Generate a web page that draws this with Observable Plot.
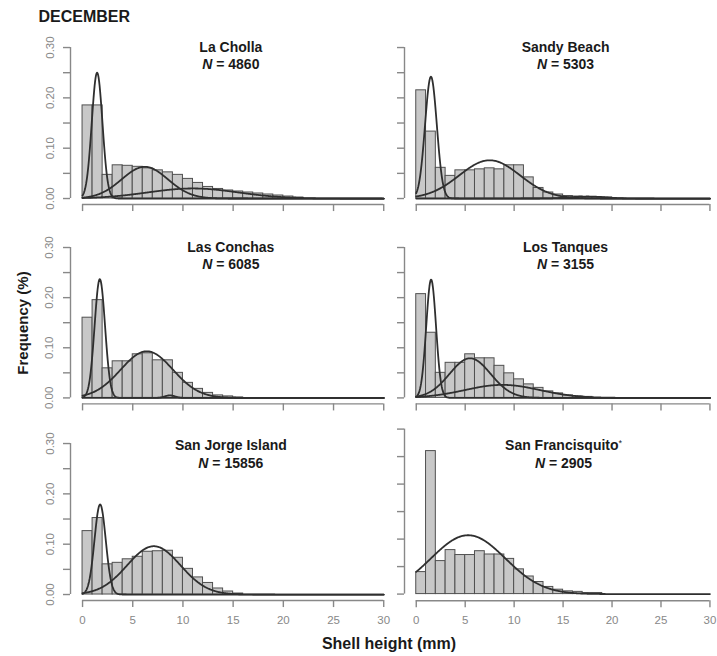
<!DOCTYPE html>
<html><head><meta charset="utf-8">
<script src="https://cdn.jsdelivr.net/npm/d3@7"></script>
<script src="https://cdn.jsdelivr.net/npm/@observablehq/plot@0.6"></script>
<style>
html,body{margin:0;padding:0;background:#fff;overflow:hidden;}
#chart{position:relative;width:717px;height:656px;overflow:hidden;font-family:"Liberation Sans",Arial,sans-serif;background:#fff;}
#chart svg{position:absolute;overflow:visible;}
.lbl{position:absolute;font-weight:bold;color:#1a1a1a;white-space:nowrap;line-height:1;}
</style></head><body><div id="chart"></div>
<script>
// ---- data ----
const sites = ["La Cholla", "Sandy Beach", "Las Conchas", "Los Tanques", "San Jorge Island", "San Francisquito*"];
const sampleSizes = [4860, 5303, 6085, 3155, 15856, 2905];
const binLow = [0,1,2,3,4,5,6,7,8,9,10,11,12,13,14,15,16,17,18,19,20,21];
const binWidth = 1;
const freqLaCholla = [0.185, 0.185, 0.047, 0.066, 0.065, 0.063, 0.060, 0.056, 0.052, 0.047, 0.039, 0.031, 0.023, 0.019, 0.016, 0.014, 0.012, 0.010, 0.008, 0.006, 0.004, 0.002];
const freqSandyBeach = [0.215, 0.133, 0.061, 0.045, 0.056, 0.056, 0.058, 0.060, 0.058, 0.066, 0.066, 0.042, 0.021, 0.012, 0.008, 0.005, 0.004, 0.003, 0.003, 0.002];
const freqLasConchas = [0.160, 0.195, 0.059, 0.073, 0.073, 0.087, 0.089, 0.075, 0.075, 0.050, 0.030, 0.018, 0.010, 0.005, 0.003, 0.001];
const freqLosTanques = [0.207, 0.130, 0.050, 0.070, 0.070, 0.087, 0.079, 0.079, 0.064, 0.049, 0.037, 0.027, 0.020, 0.013, 0.009, 0.005, 0.003, 0.002];
const freqSanJorge = [0.126, 0.152, 0.060, 0.063, 0.070, 0.075, 0.085, 0.086, 0.087, 0.073, 0.051, 0.034, 0.023, 0.012, 0.006, 0.002];
const freqSanFrancisquito = [0.040, 0.260, 0.060, 0.080, 0.071, 0.071, 0.078, 0.072, 0.072, 0.064, 0.045, 0.032, 0.022, 0.013, 0.008, 0.005, 0.004, 0.002, 0.002];
// fitted normal components: [mean (mm), sd (mm), peak height]
const compLaCholla = [[1.45, 0.53, 0.25], [6.2, 2.3, 0.063], [11, 4.5, 0.02]];
const compSandyBeach = [[1.5, 0.6, 0.242], [7.5, 3.1, 0.076], [17.5, 1.8, 0.004]];
const compLasConchas = [[1.72, 0.52, 0.237], [6.4, 2.6, 0.093], [8.7, 0.5, 0.005]];
const compLosTanques = [[1.52, 0.5, 0.236], [5.5, 2.1, 0.079], [8.8, 3.8, 0.026]];
const compSanJorge = [[1.75, 0.56, 0.179], [7.1, 2.65, 0.096]];
const compSanFrancisquito = [[5.3, 3.8, 0.107]];
const xTicks = [0, 5, 10, 15, 20, 25, 30];
const yTicks = [0, 0.05, 0.10, 0.15, 0.20, 0.25, 0.30];
const yTickLabels = ["0.00", "", "0.10", "", "0.20", "", "0.30"];

const freqs = [freqLaCholla, freqSandyBeach, freqLasConchas, freqLosTanques, freqSanJorge, freqSanFrancisquito];
const comps = [compLaCholla, compSandyBeach, compLasConchas, compLosTanques, compSanJorge, compSanFrancisquito];

// ---- layout (pixels) ----
const cols = [{x0: 81.7, kx: 10.04, tx: 230}, {x0: 415.7, kx: 9.79, tx: 565}];
const rows = [
  {yZero: 198.3, yTop: 47.3, t1: 47.5, t2: 64.2},
  {yZero: 397.7, yTop: 247.3, t1: 247.5, t2: 264},
  {yZero: 594.3, yTop: 443.3, t1: 445, t2: 463.3}
];
const francisquitoRow = {yZero: 594, yTop: 429, t1: 445, t2: 463.3};
const xDom = [-1.2, 31.2], yDom = [-0.012, 0.312];
const gray = "#888888";

const chart = document.getElementById("chart");

sites.forEach((site, i) => {
  const c = cols[i % 2];
  const r = i === 5 ? francisquitoRow : rows[Math.floor(i / 2)];
  const ky = (r.yZero - r.yTop) / 0.30;
  const pxL = c.x0 + xDom[0] * c.kx, pxR = c.x0 + xDom[1] * c.kx;
  const pyT = r.yZero - yDom[1] * ky, pyB = r.yZero - yDom[0] * ky;
  const mL = 70, mR = 10, mT = 45, mB = 45;
  const left = pxL - mL, top = pyT - mT;
  const width = pxR - pxL + mL + mR, height = pyB - pyT + mT + mB;
  const showY = i % 2 === 0, showX = i >= 4;

  const bars = freqs[i].map((f, j) => ({lo: binLow[j], hi: binLow[j] + binWidth, f}));
  const curve = [];
  comps[i].forEach(([m, s, p], k) => {
    for (let x = 0; x <= 30.0001; x += 0.05) curve.push({k, x, y: p * Math.exp(-((x - m) ** 2) / (2 * s * s))});
  });
  const titleX = (i === 5 ? c.tx - 2 : c.tx) - pxL;

  const svg = Plot.plot({
    width, height, marginLeft: mL, marginRight: mR, marginTop: mT, marginBottom: mB,
    x: {domain: xDom, axis: null},
    y: {domain: yDom, axis: null},
    style: {background: "transparent", overflow: "visible", fontFamily: "'Liberation Sans', Arial, sans-serif"},
    marks: [
      Plot.rect(bars, {x1: "lo", x2: "hi", y1: 0, y2: "f", fill: "#c8c8c8", stroke: "#505050", strokeWidth: 1}),
      Plot.line(curve, {x: "x", y: "y", z: "k", stroke: "#2f2f2f", strokeWidth: 1.8}),
      Plot.ruleY([yDom[0]], {x1: xTicks[0], x2: xTicks[xTicks.length - 1], stroke: gray, strokeWidth: 1.4}),
      Plot.ruleX([xDom[0]], {y1: yTicks[0], y2: yTicks[yTicks.length - 1], stroke: gray, strokeWidth: 1.4}),
      Plot.axisX({ticks: xTicks, anchor: "bottom", tickSize: 7, tickPadding: 8, label: null,
        tickFormat: d => showX ? String(d) : "", stroke: gray, fill: gray, strokeWidth: 1.4, fontSize: 11.5}),
      Plot.axisY({ticks: yTicks, anchor: "left", tickSize: 7, tickPadding: 10, tickRotate: -90, label: null,
        tickFormat: d => showY ? yTickLabels[yTicks.findIndex(t => Math.abs(t - d) < 1e-9)] : "",
        stroke: gray, fill: gray, strokeWidth: 1.4, fontSize: 11.5}),
      Plot.text([site], {frameAnchor: "top-left", dx: titleX, dy: r.t1 - pyT, text: d => d,
        fontWeight: "bold", fontSize: 14, fill: "#1a1a1a", textAnchor: "middle", lineAnchor: "middle"}),
      Plot.text([`N = ${sampleSizes[i]}`], {frameAnchor: "top-left", dx: titleX, dy: r.t2 - pyT, text: d => d,
        fontWeight: "bold", fontSize: 14, fill: "#1a1a1a", textAnchor: "middle", lineAnchor: "middle"})
    ]
  });
  svg.style.left = left + "px";
  svg.style.top = top + "px";
  svg.querySelectorAll("text").forEach(t => {
    const s = t.textContent;
    const ns = "http://www.w3.org/2000/svg";
    if (s.startsWith("N = ")) {
      t.textContent = "";
      const it = document.createElementNS(ns, "tspan");
      it.setAttribute("font-style", "italic");
      it.textContent = "N";
      t.append(it, s.slice(1));
    } else if (s.endsWith("*") && s.length > 1) {
      t.textContent = s.slice(0, -1);
      const st = document.createElementNS(ns, "tspan");
      st.setAttribute("font-size", "9");
      st.setAttribute("dy", "-4");
      st.setAttribute("font-weight", "normal");
      st.textContent = "*";
      t.append(st);
    }
  });
  chart.appendChild(svg);
});

function label(text, x, y, size, rotate) {
  const d = document.createElement("div");
  d.className = "lbl";
  d.textContent = text;
  d.style.fontSize = size + "px";
  d.style.left = x + "px";
  d.style.top = y + "px";
  d.style.transform = rotate ? "translate(-50%,-50%) rotate(-90deg)" : (rotate === false ? "translate(0,-50%)" : "translate(-50%,-50%)");
  chart.appendChild(d);
}
label("DECEMBER", 38.5, 17, 16, false);
label("Frequency (%)", 21.5, 323, 15, true);
label("Shell height (mm)", 389, 644, 16, null);
</script></body></html>
